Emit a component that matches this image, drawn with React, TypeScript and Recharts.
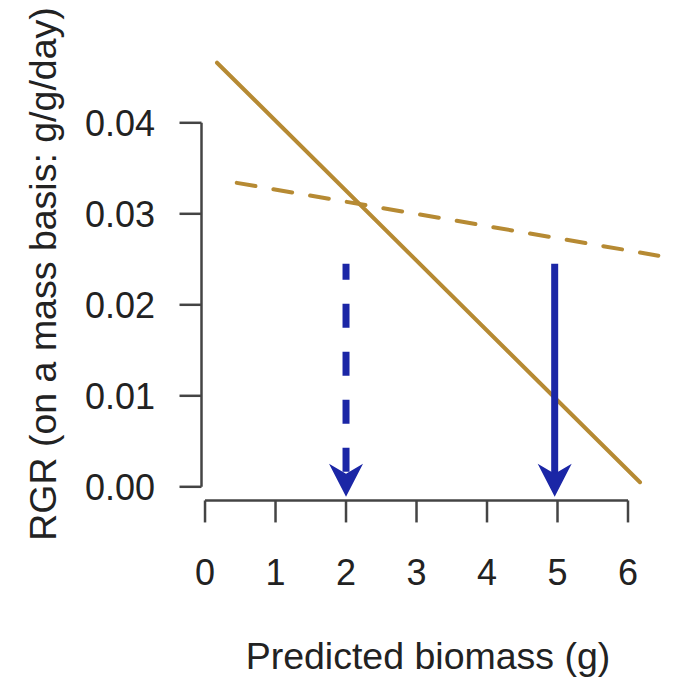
import React from 'react';
import { LineChart, Line, XAxis, YAxis, ReferenceLine } from 'recharts';

// ---- data ----
const xTicks = [0, 1, 2, 3, 4, 5, 6];
const yTicks = [0, 0.01, 0.02, 0.03, 0.04];
const solidTrend = [
  { x: 0.17, y: 0.0466 },
  { x: 6.17, y: 0.0005 },
];
const dashedTrend = [
  { x: 0.45, y: 0.0334 },
  { x: 6.43, y: 0.0254 },
];
const dashedArrow = [
  { x: 2.0, y: 0.0245 },
  { x: 2.0, y: 0 },
];
const solidArrow = [
  { x: 4.96, y: 0.0245 },
  { x: 4.96, y: 0 },
];
const xLabel = 'Predicted biomass (g)';
const yLabel = 'RGR (on a mass basis: g/g/day)';

// ---- styling ----
const XMIN = -0.05;
const XMAX = 6.6;
const YMIN = -0.0015;
const YMAX = 0.048;
const GOLD = '#B68A33';
const BLUE = '#1B26A6';
const AXIS = '#444444';
const TEXT = '#222222';
const FONT = '"Liberation Sans", Arial, Helvetica, sans-serif';
const FS = 36;
const FS_TITLE = 37.5;

const ArrowHead = (props: any) => {
  const { cx, cy, index } = props;
  if (index !== 1 || cx == null || cy == null) return <g key={`n${index}`} />;
  const pts = `${cx},${cy + 10} ${cx + 17},${cy - 23} ${cx},${cy - 13} ${cx - 17},${cy - 23}`;
  return <polygon key={`h${index}`} points={pts} fill={BLUE} stroke="none" />;
};

export default function App() {
  return (
    <div style={{ position: 'absolute', left: 0, top: 0, background: '#fff' }}>
      <LineChart
        width={684}
        height={679}
        margin={{ top: 50, right: 13.7, left: 0, bottom: 0 }}
      >
        <XAxis
          type="number"
          dataKey="x"
          domain={[XMIN, XMAX]}
          allowDataOverflow
          ticks={xTicks}
          axisLine={false}
          tickLine={{ stroke: AXIS, strokeWidth: 2.5 }}
          tickSize={22}
          tickMargin={37}
          height={178.55}
          tick={{ fill: TEXT, fontSize: FS, fontFamily: FONT }}
          interval={0}
          label={{
            value: xLabel,
            content: () => (
              <text x={428} y={669} textAnchor="middle" fill={TEXT} fontSize={FS_TITLE} fontFamily={FONT}>
                {xLabel}
              </text>
            ),
          }}
        />
        <YAxis
          type="number"
          dataKey="y"
          domain={[YMIN, YMAX]}
          allowDataOverflow
          ticks={yTicks}
          width={201.5}
          axisLine={false}
          tickLine={{ stroke: AXIS, strokeWidth: 2.5 }}
          tickSize={22}
          tickMargin={24.5}
          interval={0}
          tickFormatter={(v: number) => v.toFixed(2)}
          tick={{ fill: TEXT, fontSize: FS, fontFamily: FONT }}
          label={{
            value: yLabel,
            content: () => (
              <text
                x={56}
                y={274}
                transform="rotate(-90 56 274)"
                textAnchor="middle"
                fill={TEXT}
                fontSize={FS_TITLE}
                fontFamily={FONT}
              >
                {yLabel}
              </text>
            ),
          }}
        />
        <ReferenceLine
          segment={[{ x: xTicks[0], y: YMIN }, { x: xTicks[xTicks.length - 1], y: YMIN }]}
          stroke={AXIS}
          strokeWidth={2.5}
          ifOverflow="visible"
        />
        <ReferenceLine
          segment={[{ x: XMIN, y: yTicks[0] }, { x: XMIN, y: yTicks[yTicks.length - 1] }]}
          stroke={AXIS}
          strokeWidth={2.5}
          ifOverflow="visible"
        />
        <Line
          data={solidTrend}
          dataKey="y"
          type="linear"
          stroke={GOLD}
          strokeWidth={4}
          strokeLinecap="round"
          dot={false}
          activeDot={false}
          isAnimationActive={false}
        />
        <Line
          data={dashedTrend}
          dataKey="y"
          type="linear"
          stroke={GOLD}
          strokeWidth={4}
          strokeLinecap="round"
          strokeDasharray="19 18.2"
          dot={false}
          activeDot={false}
          isAnimationActive={false}
        />
        <Line
          data={dashedArrow}
          dataKey="y"
          type="linear"
          stroke={BLUE}
          strokeWidth={7}
          strokeLinecap="butt"
          strokeDasharray="24 24"
          strokeDashoffset={8}
          dot={ArrowHead}
          activeDot={false}
          isAnimationActive={false}
        />
        <Line
          data={solidArrow}
          dataKey="y"
          type="linear"
          stroke={BLUE}
          strokeWidth={7}
          strokeLinecap="butt"
          dot={ArrowHead}
          activeDot={false}
          isAnimationActive={false}
        />
      </LineChart>
    </div>
  );
}
